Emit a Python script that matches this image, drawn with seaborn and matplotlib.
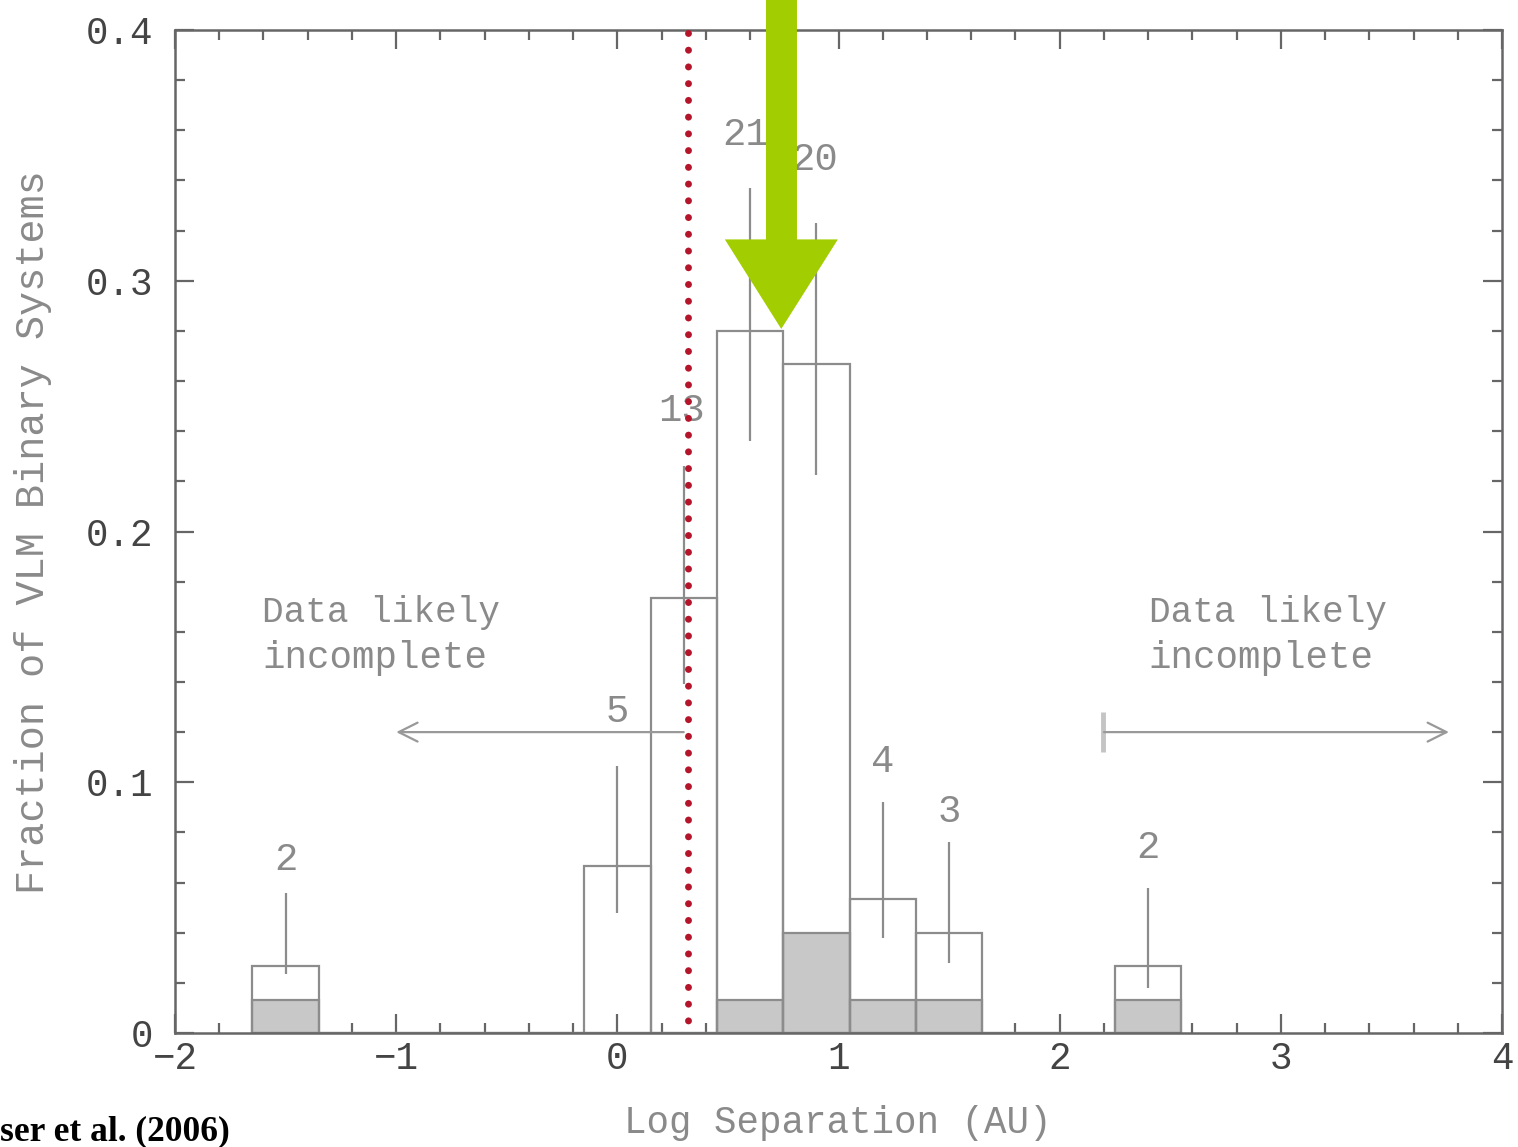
import numpy as np
import pandas as pd
import matplotlib
matplotlib.use("Agg")
import matplotlib.pyplot as plt
from matplotlib.ticker import MultipleLocator
from matplotlib.patches import Polygon
import seaborn as sns

# Binary counts per log-separation bin (bin width 0.3 dex)
bin_centers = [-1.5, 0.0, 0.3, 0.6, 0.9, 1.2, 1.5, 2.4]
counts = [2, 5, 13, 21, 20, 4, 3, 2]
# Subsample shown as the shaded histogram
shaded_centers = [-1.5, 0.6, 0.9, 1.2, 1.5, 2.4]
shaded_counts = [1, 1, 3, 1, 1, 1]
n_total = 75
# Uncertainty ranges (fraction) for each bin
err_low = [0.0235, 0.048, 0.139, 0.236, 0.2225, 0.038, 0.028, 0.018]
err_high = [0.0558, 0.1065, 0.226, 0.337, 0.323, 0.092, 0.076, 0.058]
# Count label heights (fraction)
label_y = [0.065, 0.124, 0.244, 0.354, 0.344, 0.104, 0.084, 0.0698]
label_x = [-1.5, 0.0, 0.29, 0.58, 0.89, 1.2, 1.5, 2.4]

bin_range = (-1.65, 2.55)
n_bins = 14
xticks = [-2, -1, 0, 1, 2, 3, 4]
xtick_labels = ["\u22122", "\u22121", "0", "1", "2", "3", "4"]
yticks = [0, 0.1, 0.2, 0.3, 0.4]
ytick_labels = ["0", "0.1", "0.2", "0.3", "0.4"]
limit_x = 0.32

sns.set_style("ticks")
plt.rcParams["font.family"] = ["Liberation Mono", "DejaVu Sans Mono"]

main = pd.DataFrame({"sep": bin_centers,
                     "frac": np.array(counts) / n_total})
shaded = pd.DataFrame({"sep": shaded_centers,
                       "frac": np.array(shaded_counts) / n_total})

fig = plt.figure(figsize=(15.18, 11.47), dpi=100)
ax = fig.add_axes([0.1153, 0.0994, 0.8742, 0.8744])

edge_col = "#8c8c8c"
sns.histplot(data=shaded, x="sep", weights="frac", bins=n_bins,
             binrange=bin_range, color="#c8c8c8", alpha=1,
             edgecolor=edge_col, linewidth=1.6, ax=ax, zorder=1)
sns.histplot(data=main, x="sep", weights="frac", bins=n_bins,
             binrange=bin_range, fill=False, color=edge_col,
             linewidth=1.6, ax=ax, zorder=2)

ax.vlines(bin_centers, err_low, err_high, color=edge_col, lw=1.6, zorder=2)
for x, y, c in zip(label_x, label_y, counts):
    ax.text(x, y, str(c), ha="center", va="baseline", fontsize=28,
            color="#8a8a8a", zorder=3)

# Completeness notes and arrows
for x0 in (-1.607, 2.403):
    ax.text(x0, 0.1639, "Data likely", ha="left", va="baseline",
            fontsize=26, color="#8a8a8a")
    ax.text(x0, 0.1456, "incomplete", ha="left", va="baseline",
            fontsize=27, color="#8a8a8a")
ax.annotate("", xy=(-1.0, 0.12), xytext=(0.3, 0.12),
            arrowprops=dict(arrowstyle="->", color="#999999", lw=1.6,
                            mutation_scale=34, shrinkA=0, shrinkB=0))
ax.annotate("", xy=(3.76, 0.12), xytext=(2.2, 0.12),
            arrowprops=dict(arrowstyle="->", color="#999999", lw=1.6,
                            mutation_scale=34, shrinkA=0, shrinkB=0))
ax.vlines([2.195], 0.112, 0.128, color="#c4c4c4", lw=3.5)

# Resolution limit
ax.axvline(limit_x, ymin=0.0, ymax=1.0, color="#b5152b", lw=5.0,
           linestyle=(0.6, (0.01, 2.4)), dash_capstyle="round", zorder=4)

# Highlight arrow pointing at the peak bin
peak_x, peak_y = 0.741, 0.2808
arrow = Polygon([(0.672, 0.413), (0.812, 0.413), (0.812, 0.3165),
                 (0.997, 0.3165), (peak_x, peak_y), (0.486, 0.3165),
                 (0.672, 0.3165)], closed=True, facecolor="#a2cd00",
                edgecolor="none", zorder=6, clip_on=False)
ax.add_patch(arrow)

ax.set_xlim(-2, 4)
ax.set_ylim(0, 0.4)
ax.set_xticks(xticks)
ax.set_xticklabels(xtick_labels)
ax.set_yticks(yticks)
ax.set_yticklabels(ytick_labels)
ax.xaxis.set_minor_locator(MultipleLocator(0.2))
ax.yaxis.set_minor_locator(MultipleLocator(0.02))
ax.tick_params(which="both", direction="in", top=True, right=True,
               colors="#666666", labelcolor="#444444", labelsize=27)
ax.tick_params(which="major", length=14, width=1.6)
ax.tick_params(which="minor", length=7, width=1.6)
ax.tick_params(axis="x", pad=6)
ax.tick_params(axis="y", pad=16)
for s in ax.spines.values():
    s.set_color("#666666")
    s.set_linewidth(1.8)
ax.set_xlabel("")
ax.set_ylabel("")

fig.text(838 / 1518, 1 - 1123 / 1147, "Log Separation (AU)", ha="center",
         va="center", fontsize=27, color="#8a8a8a")
fig.text(33 / 1518, 1 - 532 / 1147, "Fraction of VLM Binary Systems",
         ha="center", va="center", rotation=90, fontsize=29, color="#8a8a8a")
fig.text(0.0, 1 - 1140 / 1147, "ser et al. (2006)", ha="left", va="baseline",
         fontsize=25.5, fontweight="bold", family="Liberation Serif",
         color="black")

fig.savefig("out.png", dpi=100)
